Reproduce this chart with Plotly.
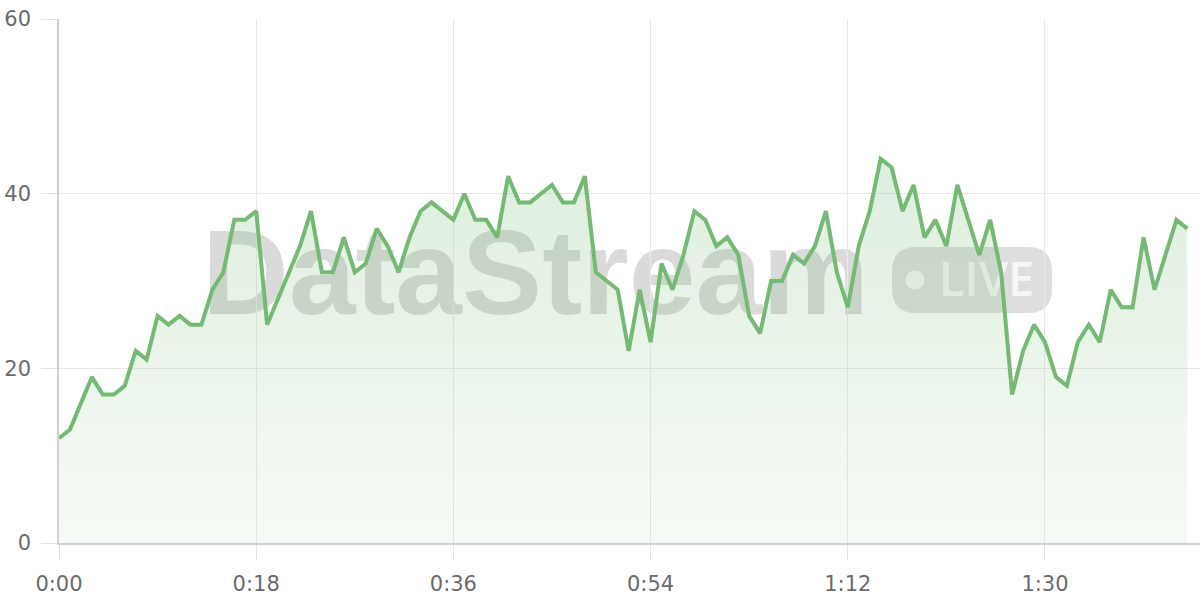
import plotly.graph_objects as go

# ---- data -------------------------------------------------------------
values = [
    12, 13, 16, 19, 17, 17, 18, 22, 21, 26, 25, 26, 25, 25, 29, 31, 37, 37, 38,
    25, 28, 31, 34, 38, 31, 31, 35, 31, 32, 36, 34, 31, 35, 38, 39, 38, 37,
    40, 37, 37, 35, 42, 39, 39, 40, 41, 39, 39, 42, 31, 30, 29, 22, 29,
    23, 32, 29, 33, 38, 37, 34, 35, 33, 26, 24, 30, 30, 33, 32, 34, 38, 31,
    27, 34, 38, 44, 43, 38, 41, 35, 37, 34, 41, 37, 33, 37, 31, 17, 22, 25,
    23, 19, 18, 23, 25, 23, 29, 27, 27, 35, 29, 33, 37, 36,
]
seconds = list(range(len(values)))
x_tick_vals = [0, 18, 36, 54, 72, 90]
x_tick_text = ["0:00", "0:18", "0:36", "0:54", "1:12", "1:30"]
y_tick_vals = [0, 20, 40, 60]
watermark_text = "DataStream"
badge_text = "LIVE"

# ---- layout geometry (pixels) ----------------------------------------
W, H = 1200, 600
ML, MR, MT, MB = 59, 0, 19, 57
PW, PH = W - ML - MR, H - MT - MB


def px(x):
    return (x - ML) / PW


def py(y):
    return (H - MB - y) / PH


LINE = "#74b974"
TICKFONT = dict(family="'DejaVu Sans', sans-serif", size=21, color="#6b6b6b")

fig = go.Figure()
fig.add_trace(
    go.Scatter(
        x=seconds,
        y=values,
        mode="lines",
        line=dict(color=LINE, width=4),
        fill="tozeroy",
        fillgradient=dict(
            type="vertical",
            start=0,
            stop=44,
            colorscale=[[0, "rgba(116,185,116,0.06)"], [1, "rgba(116,185,116,0.24)"]],
        ),
        hoverinfo="skip",
        showlegend=False,
    )
)

shapes = []
# watermark text
shapes.append(
    dict(
        type="rect", xref="paper", yref="paper",
        x0=px(188), x1=px(883), y0=py(321), y1=py(201),
        line=dict(width=0), fillcolor="rgba(0,0,0,0)", layer="below",
        label=dict(
            text=watermark_text,
            textposition="middle center",
            font=dict(family="'Liberation Sans', Arial, sans-serif", size=120, weight=700,
                      color="rgba(0,0,0,0.145)"),
        ),
    )
)
# rounded badge
bx0, bx1, by0, by1, r = 892, 1052, 247, 313, 24
path = (
    f"M {px(bx0 + r)},{py(by0)} L {px(bx1 - r)},{py(by0)} "
    f"Q {px(bx1)},{py(by0)} {px(bx1)},{py(by0 + r)} "
    f"L {px(bx1)},{py(by1 - r)} Q {px(bx1)},{py(by1)} {px(bx1 - r)},{py(by1)} "
    f"L {px(bx0 + r)},{py(by1)} Q {px(bx0)},{py(by1)} {px(bx0)},{py(by1 - r)} "
    f"L {px(bx0)},{py(by0 + r)} Q {px(bx0)},{py(by0)} {px(bx0 + r)},{py(by0)} Z"
)
shapes.append(
    dict(type="path", xref="paper", yref="paper", path=path,
         line=dict(width=0), fillcolor="rgba(0,0,0,0.13)", layer="below")
)
# dot
shapes.append(
    dict(type="circle", xref="paper", yref="paper",
         x0=px(905.5), x1=px(924.5), y0=py(289.5), y1=py(270.5),
         line=dict(width=0), fillcolor="rgba(255,255,255,0.72)", layer="below")
)
# LIVE text
shapes.append(
    dict(
        type="rect", xref="paper", yref="paper",
        x0=px(930), x1=px(1043), y0=py(306), y1=py(256),
        line=dict(width=0), fillcolor="rgba(0,0,0,0)", layer="below",
        label=dict(
            text=badge_text,
            textposition="middle center",
            font=dict(family="'Open Sans', sans-serif", size=47, weight=600,
                      color="rgba(255,255,255,0.75)"),
        ),
    )
)

fig.update_layout(
    width=W, height=H,
    margin=dict(l=ML, r=MR, t=MT, b=MB, pad=0),
    paper_bgcolor="white",
    plot_bgcolor="rgba(0,0,0,0)",
    shapes=shapes,
    showlegend=False,
)
fig.update_xaxes(
    range=[0, 104.15],
    tickvals=x_tick_vals, ticktext=x_tick_text,
    showgrid=True, gridcolor="#e9e9e9", gridwidth=1.2,
    showline=True, linecolor="#d0d0d0", linewidth=1.5,
    ticks="outside", ticklen=15, tickcolor="#e2e2e2", tickwidth=1.2,
    tickfont=TICKFONT, ticklabelstandoff=6,
    zeroline=False, fixedrange=True, automargin=False,
)
fig.update_yaxes(
    range=[0, 60],
    tickvals=y_tick_vals,
    showgrid=True, gridcolor="#e9e9e9", gridwidth=1.2,
    showline=True, linecolor="#d0d0d0", linewidth=1.5,
    ticks="outside", ticklen=16, tickcolor="#e2e2e2", tickwidth=1.2,
    tickfont=TICKFONT, ticklabelstandoff=6,
    zeroline=False, fixedrange=True, automargin=False,
)

fig.write_html(
    "out.html",
    config={"displayModeBar": False},
    post_script="document.body.style.margin='0px';document.body.style.padding='0px';",
)
